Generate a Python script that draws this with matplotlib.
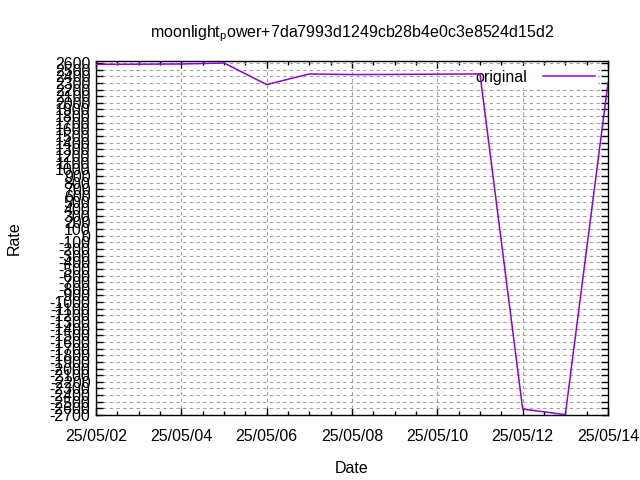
import matplotlib
matplotlib.use("Agg")
import matplotlib.pyplot as plt
import matplotlib.dates as mdates
import numpy as np
import pandas as pd

dates = ["2025-05-02", "2025-05-03", "2025-05-04", "2025-05-05", "2025-05-06",
         "2025-05-07", "2025-05-08", "2025-05-09", "2025-05-10", "2025-05-11",
         "2025-05-12", "2025-05-13", "2025-05-14"]
values = [2580, 2582, 2585, 2600, 2275, 2435, 2426, 2428, 2432, 2435,
          -2610, -2695, 2300]
series_label = "original"
title = r"moonlight$_{\mathrm{p}}$ower+7da7993d1249cb28b4e0c3e8524d15d2"
ytick_values = list(range(-2700, 2601, 100))

plt.rcParams['font.family'] = ['Liberation Sans', 'DejaVu Sans']
plt.rcParams['mathtext.fontset'] = 'custom'
plt.rcParams['mathtext.rm'] = 'Liberation Sans'
plt.rcParams['mathtext.it'] = 'Liberation Sans'

fs = 11.5
x = pd.to_datetime(dates)

fig = plt.figure(figsize=(6.4, 4.8), dpi=100)
ax = fig.add_axes([96/640, 1-415/480, (608-96)/640, (415-61)/480])

ax.plot(x, values, color="#9400d3", lw=1.1, label=series_label, zorder=3)

ax.set_xlim(pd.Timestamp("2025-05-02"), pd.Timestamp("2025-05-14"))
ax.set_ylim(-2700, 2630)

ax.xaxis.set_major_locator(mdates.DayLocator(interval=2))
ax.xaxis.set_minor_locator(mdates.HourLocator(byhour=[0, 12]))
ax.xaxis.set_major_formatter(mdates.DateFormatter("%y/%m/%d"))
ax.set_yticks(ytick_values)
ax.set_yticklabels([str(v) for v in ytick_values])

ax.tick_params(axis='both', which='both', direction='in', top=True, right=True,
               labelsize=fs, width=1, color='black')
ax.tick_params(axis='both', which='major', length=5)
ax.tick_params(axis='both', which='minor', length=3)
ax.tick_params(axis='x', pad=10)
ax.tick_params(axis='y', pad=4)

ax.set_axisbelow(True)
ax.grid(True, which='major', color='#a0a0a0', linestyle=(0, (3, 3)), lw=0.8, zorder=0.5)

for s in ax.spines.values():
    s.set_linewidth(1)

ax.set_title(title, fontsize=fs, pad=17)
ax.set_xlabel("Date", fontsize=fs, labelpad=12)
ax.set_ylabel("Rate", fontsize=fs, labelpad=20)

leg = ax.legend(loc='upper right', bbox_to_anchor=(0.98, 0.985), frameon=True,
                markerfirst=False, handlelength=3.2, fontsize=fs,
                borderpad=0.2, handletextpad=1.0, borderaxespad=0)
leg.get_frame().set_facecolor('white')
leg.get_frame().set_edgecolor('none')
leg.get_frame().set_alpha(1)
leg.get_frame().set_boxstyle('square', pad=0)
leg.set_zorder(2)

fig.savefig("out.png", dpi=100)
